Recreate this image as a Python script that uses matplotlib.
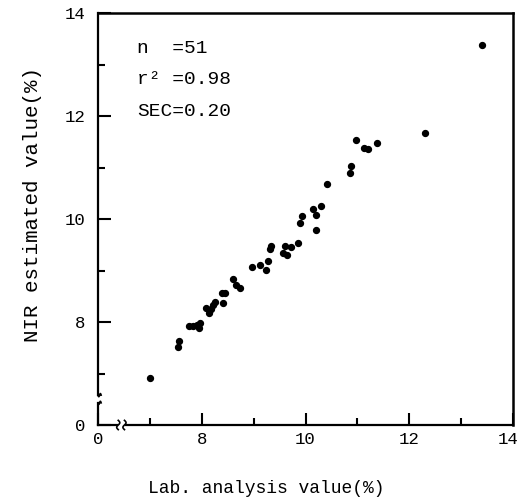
import numpy as np
import matplotlib
matplotlib.use('Agg')
import matplotlib.pyplot as plt
import matplotlib.transforms as mtransforms

# values (both axes really start at 6, shown as "0")
lab = [7.01, 7.54, 7.57, 7.75, 7.83, 7.90, 7.94, 7.96, 8.08, 8.14,
       8.17, 8.21, 8.25, 8.39, 8.44, 8.41, 8.60, 8.66, 8.74, 8.97,
       9.12, 9.24, 9.28, 9.32, 9.33, 9.57, 9.64, 9.61, 9.72, 9.86,
       9.90, 9.93, 10.15, 10.21, 10.21, 10.30, 10.42, 10.86, 10.88, 10.98,
       11.13, 11.21, 11.37, 12.31, 13.40]
nir = [6.91, 7.51, 7.63, 7.92, 7.92, 7.94, 7.88, 7.98, 8.27, 8.17,
       8.25, 8.33, 8.39, 8.56, 8.56, 8.37, 8.83, 8.72, 8.66, 9.07,
       9.11, 9.01, 9.18, 9.42, 9.48, 9.34, 9.30, 9.48, 9.46, 9.53,
       9.92, 10.06, 10.19, 10.08, 9.79, 10.25, 10.68, 10.89, 11.03, 11.53,
       11.38, 11.36, 11.48, 11.67, 13.38]

tick_pos = [6, 8, 10, 12, 14]
tick_lab = ['0', '8', '10', '12', '14']
stats = ['n  =51', 'r\u00b2 =0.98', 'SEC=0.20']

font = 'Liberation Mono'

fig = plt.figure(figsize=(5.2, 5.01), dpi=100)
ax = fig.add_axes([0.1885, 0.1517, 0.798, 0.8223])

ax.scatter(lab, nir, s=18, color='black', zorder=3)

ax.set_xlim(6, 14)
ax.set_ylim(6, 14)
ax.set_xticks(tick_pos)
ax.set_xticklabels(tick_lab)
ax.set_yticks(tick_pos)
ax.set_yticklabels(tick_lab)
ax.set_xticks([7, 9, 11, 13], minor=True)
ax.set_yticks([7, 9, 11, 13], minor=True)
ax.tick_params(which='both', direction='in', top=False, right=False,
               width=1.5, labelsize=12.5)
ax.tick_params(axis='x', pad=5)
ax.tick_params(axis='y', pad=9)
ax.tick_params(which='major', length=9)
ax.tick_params(which='minor', length=5)
for lbl in ax.get_xticklabels() + ax.get_yticklabels():
    lbl.set_family(font)
# keep the last x label inside the canvas
last = ax.get_xticklabels()[-1]
last.set_transform(last.get_transform() +
                   mtransforms.ScaledTranslation(-5 / 100, 0, fig.dpi_scale_trans))

for side in ['top', 'right']:
    ax.spines[side].set_linewidth(1.8)
ax.spines['left'].set_visible(False)
ax.spines['bottom'].set_visible(False)

# broken axes drawn by hand
lw = 1.6
t = np.linspace(-1, 1, 30)
ax.plot([6, 6], [6.58, 14], color='black', lw=lw, clip_on=False)
ax.plot([6, 6], [6, 6.43], color='black', lw=lw, clip_on=False)
for y0 in [6.43, 6.58]:
    ax.plot(6 + 0.06 * (t + 1) / 2, y0 + 0.03 * np.sin(np.pi * t),
            color='black', lw=1.2, clip_on=False)
ax.plot([6, 6.37], [6, 6], color='black', lw=lw, clip_on=False)
ax.plot([6.53, 14], [6, 6], color='black', lw=lw, clip_on=False)
for x0 in [6.39, 6.51]:
    ax.plot(x0 + 0.03 * np.sin(np.pi * t), 6 + 0.09 * t,
            color='black', lw=1.2, clip_on=False)

for i, s in enumerate(stats):
    ax.text(0.094, 0.915 - i * 0.077, s, transform=ax.transAxes,
            family=font, fontsize=14, va='center', ha='left')

ax.set_xlabel('Lab. analysis value(%)', family=font, fontsize=13)
ax.xaxis.set_label_coords(0.405, -0.153)
ax.set_ylabel('NIR estimated value(%)', family=font, fontsize=15)
ax.yaxis.set_label_coords(-0.157, 0.536)
ax.xaxis.label.set_va('center')
ax.yaxis.label.set_va('center')

fig.savefig('out.png', dpi=100)
